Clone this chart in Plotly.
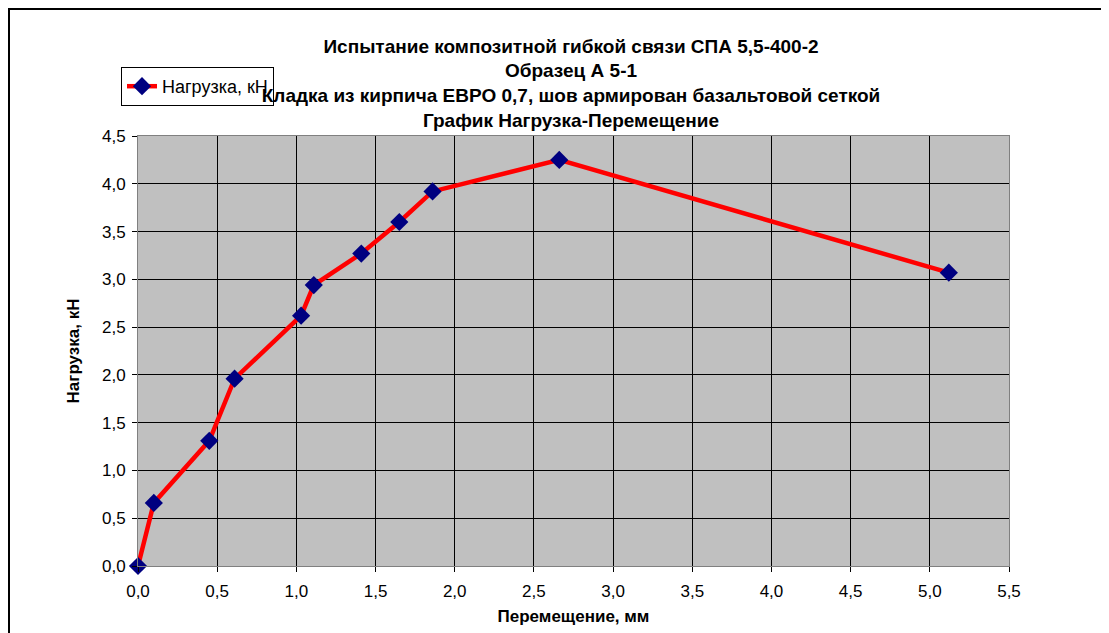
import plotly.graph_objects as go

# displacement, mm and load, kN
displacement = [0.0, 0.10, 0.45, 0.61, 1.03, 1.11, 1.41, 1.65, 1.86, 2.66, 5.12]
load = [0.0, 0.66, 1.31, 1.96, 2.62, 2.94, 3.27, 3.60, 3.92, 4.25, 3.07]

title_lines = [
    "Испытание композитной гибкой связи СПА 5,5-400-2",
    "Образец А 5-1",
    "Кладка из кирпича ЕВРО 0,7, шов армирован базальтовой сеткой",
    "График Нагрузка-Перемещение",
]

FONT = "Liberation Sans, Arial, sans-serif"

fig = go.Figure()
fig.add_trace(go.Scatter(
    x=displacement, y=load, name="Нагрузка, кН", mode="lines+markers",
    line=dict(color="#FF0000", width=4.5),
    marker=dict(symbol="diamond", size=14, color="#000080"),
    cliponaxis=False,
))

# outer chart border
fig.add_shape(type="rect", xref="paper", yref="paper",
              x0=(9 - 138) / 871, x1=1.3, y0=-0.3, y1=(566 - 9) / 430,
              line=dict(color="black", width=2), layer="below")

fig.update_xaxes(
    range=[0, 5.5], dtick=0.5, tick0=0, tickformat=".1f",
    showgrid=True, gridcolor="black", gridwidth=1,
    showline=True, linecolor="#808080", linewidth=1, mirror=True,
    ticks="outside", ticklen=5, tickcolor="black", ticklabelstandoff=5,
    zeroline=False,
    tickfont=dict(size=17, color="black", family=FONT),
    title=dict(text="<b>Перемещение, мм</b>", standoff=9,
               font=dict(size=17, color="black", family=FONT)),
)
fig.update_yaxes(
    range=[0, 4.5], dtick=0.5, tick0=0, tickformat=".1f",
    showgrid=True, gridcolor="black", gridwidth=1,
    showline=True, linecolor="#808080", linewidth=1, mirror=True,
    ticks="outside", ticklen=5, tickcolor="black", ticklabelstandoff=3,
    zeroline=False,
    tickfont=dict(size=17, color="black", family=FONT),
    title=dict(text="<b>Нагрузка, кН</b>", standoff=18,
               font=dict(size=17, color="black", family=FONT)),
)

fig.update_layout(
    width=1109, height=633,
    margin=dict(l=130, r=108, t=128, b=75),
    plot_bgcolor="#C0C0C0", paper_bgcolor="white",
    separators=", ",
    title=dict(text="<br>".join("<b>" + t + "</b>" for t in title_lines),
               xref="paper", x=(571 - 138) / 871, xanchor="center",
               yref="container", y=1 - 44.5 / 633, yanchor="middle",
               font=dict(size=19, color="black", family=FONT)),
    showlegend=True,
    legend=dict(x=(121 - 138) / 871, y=(566 - 67) / 430, xanchor="left", yanchor="top",
                bgcolor="white", bordercolor="black", borderwidth=1,
                font=dict(size=18, color="black", family=FONT),
                itemwidth=30, tracegroupgap=0),
    font=dict(family=FONT, color="black"),
)

fig.write_html("out.html")
